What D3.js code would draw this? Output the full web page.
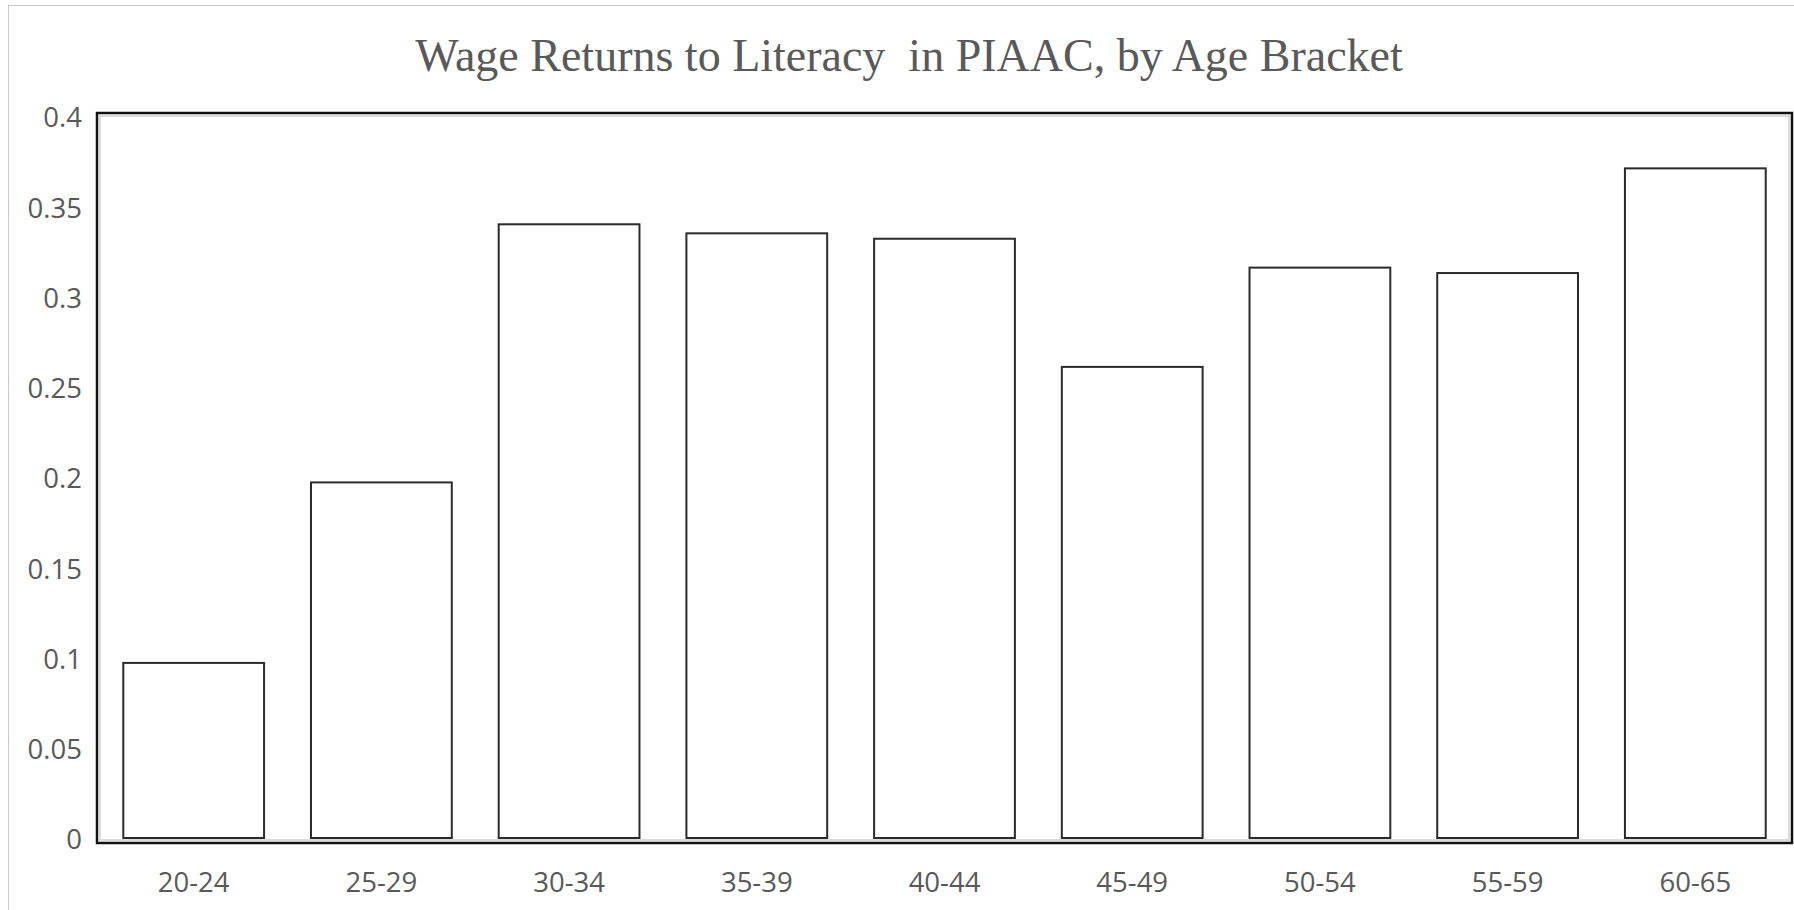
<!DOCTYPE html>
<html>
<head>
<meta charset="utf-8">
<script src="https://cdn.jsdelivr.net/npm/d3@7"></script>
<style>
  html, body { margin: 0; padding: 0; background: #fff; overflow: hidden; }
  svg { display: block; }
</style>
</head>
<body>
<svg id="chart" width="1794" height="910"></svg>
<script>
const titleText = "Wage Returns to Literacy  in PIAAC, by Age Bracket";
const categories = ["20-24", "25-29", "30-34", "35-39", "40-44", "45-49", "50-54", "55-59", "60-65"];
const values = [0.097, 0.197, 0.340, 0.335, 0.332, 0.261, 0.316, 0.313, 0.371];
const yTicks = [0, 0.05, 0.1, 0.15, 0.2, 0.25, 0.3, 0.35, 0.4];

const svg = d3.select("#chart");
const plot = { left: 97, top: 113, right: 1792, bottom: 843 };

// chart area border (extends beyond the window on right/bottom)
svg.append("rect")
  .attr("x", 8.5).attr("y", 5.5)
  .attr("width", 1810).attr("height", 920)
  .attr("fill", "#fff").attr("stroke", "#c8c8c8").attr("stroke-width", 1);

// title
svg.append("text")
  .attr("x", 909).attr("y", 71)
  .attr("text-anchor", "middle")
  .attr("xml:space", "preserve")
  .style("white-space", "pre")
  .attr("font-family", "'Liberation Serif', 'Times New Roman', serif")
  .attr("font-size", 46)
  .attr("fill", "#595959")
  .text(titleText);

const x = d3.scaleBand()
  .domain(categories)
  .range([plot.left, plot.right])
  .paddingInner(0.25)
  .paddingOuter(0.14);

const y = d3.scaleLinear()
  .domain([0, 0.4])
  .range([838, 116]);

// plot area inner gray line
svg.append("rect")
  .attr("x", plot.left + 3).attr("y", plot.top + 3)
  .attr("width", plot.right - plot.left - 6).attr("height", plot.bottom - plot.top - 6)
  .attr("fill", "none").attr("stroke", "#dcdcdc").attr("stroke-width", 2);

// bars
svg.append("g").selectAll("rect")
  .data(categories)
  .join("rect")
  .attr("x", (d) => x(d))
  .attr("y", (d, i) => y(values[i]))
  .attr("width", x.bandwidth())
  .attr("height", (d, i) => y(0) - y(values[i]))
  .attr("fill", "#fff")
  .attr("stroke", "#2b2b2b")
  .attr("stroke-width", 2);

// plot area border
svg.append("rect")
  .attr("x", plot.left).attr("y", plot.top)
  .attr("width", plot.right - plot.left).attr("height", plot.bottom - plot.top)
  .attr("fill", "none").attr("stroke", "#111").attr("stroke-width", 2.5);

// y axis
const yAxis = svg.append("g")
  .attr("transform", `translate(${plot.left},2)`)
  .call(d3.axisLeft(y).tickValues(yTicks).tickSize(0).tickPadding(15).tickFormat(d => String(d)));
yAxis.select(".domain").remove();
yAxis.selectAll("text")
  .attr("font-family", "'Open Sans', 'Liberation Sans', sans-serif")
  .attr("font-size", 27.5)
  .attr("fill", "#595959");

// x axis
const xAxis = svg.append("g")
  .attr("transform", `translate(0,${plot.bottom})`)
  .call(d3.axisBottom(x).tickSize(0).tickPadding(29));
xAxis.select(".domain").remove();
xAxis.selectAll("text")
  .attr("font-family", "'Open Sans', 'Liberation Sans', sans-serif")
  .attr("font-size", 27.5)
  .attr("fill", "#595959");
</script>
</body>
</html>
